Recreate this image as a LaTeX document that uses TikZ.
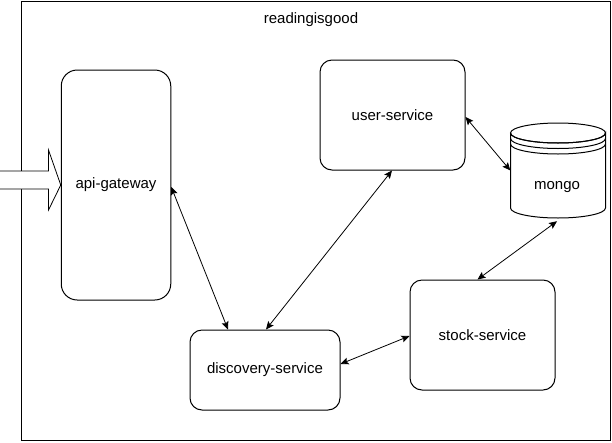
\documentclass[tikz,border=0pt]{standalone}
\usepackage{fontspec}
\setmainfont{Liberation Sans}
\usetikzlibrary{arrows.meta}
\begin{document}
\begin{tikzpicture}[x=1pt,y=-1pt,
  every node/.style={font=\fontsize{15}{17}\selectfont},
  svc/.style={draw,line width=1pt,rounded corners=#1,inner sep=0pt,fill=white},
  svc/.default=12pt,
  link/.style={line width=0.8pt,{Stealth[length=8pt,width=7pt,inset=1.5pt]}-{Stealth[length=8pt,width=7pt,inset=1.5pt]}}]
\useasboundingbox (0,0) rectangle (612,442);
% frame
\node[draw,line width=1pt,minimum width=589.5pt,minimum height=439.5pt,inner sep=0pt,anchor=north west] (frame) at (20.5,0.5) {};
\node (title) at (311,20) {readingisgood};
% services
\node[svc=16pt,minimum width=109.5pt,minimum height=230pt] (api) at (116,185) {api-gateway};
\node[svc,minimum width=145pt,minimum height=110pt] (user) at (392.5,115) {user-service};
\node[svc,minimum width=145pt,minimum height=110pt] (stock) at (482.5,335) {stock-service};
\node[svc,minimum width=150pt,minimum height=80pt] (disc) at (265,370) {discovery-service};
% mongo
\node[minimum width=95pt,minimum height=95pt,inner sep=0pt] (mongo) at (558,170.5) {};
\node at (557,187) {mongo};
\draw[line width=1pt] (510.5,133) -- (510.5,208) arc[start angle=180,end angle=360,x radius=47.5pt,y radius=10pt] -- (605.5,133)
  arc[start angle=0,end angle=-180,x radius=47.5pt,y radius=10pt];
\draw[line width=1pt] (558,133) ellipse[x radius=47.5pt,y radius=10pt];
\draw[line width=1pt] (510.5,138.5) arc[start angle=180,end angle=360,x radius=47.5pt,y radius=10pt];
\draw[line width=1pt] (510.5,144) arc[start angle=180,end angle=360,x radius=47.5pt,y radius=10pt];
% input block arrow
\draw[line width=0.8pt,fill=white] (0,171) -- (48.5,171) -- (48.5,150) -- (api.west) -- (48.5,210) -- (48.5,189) -- (0,189);
% links
\draw[link] ([yshift=-2pt]api.east) -- ([xshift=-37pt]disc.north);
\draw[link] ([xshift=-0.5pt]user.south) -- ([xshift=1pt]disc.north);
\draw[link] ([yshift=6pt]disc.east) -- ([yshift=-1pt]stock.west);
\draw[link] ([yshift=-2pt]user.east) -- (mongo.west);
\draw[link] ([xshift=-1pt,yshift=-3pt]mongo.south) -- ([xshift=-5pt]stock.north);
\end{tikzpicture}
\end{document}
